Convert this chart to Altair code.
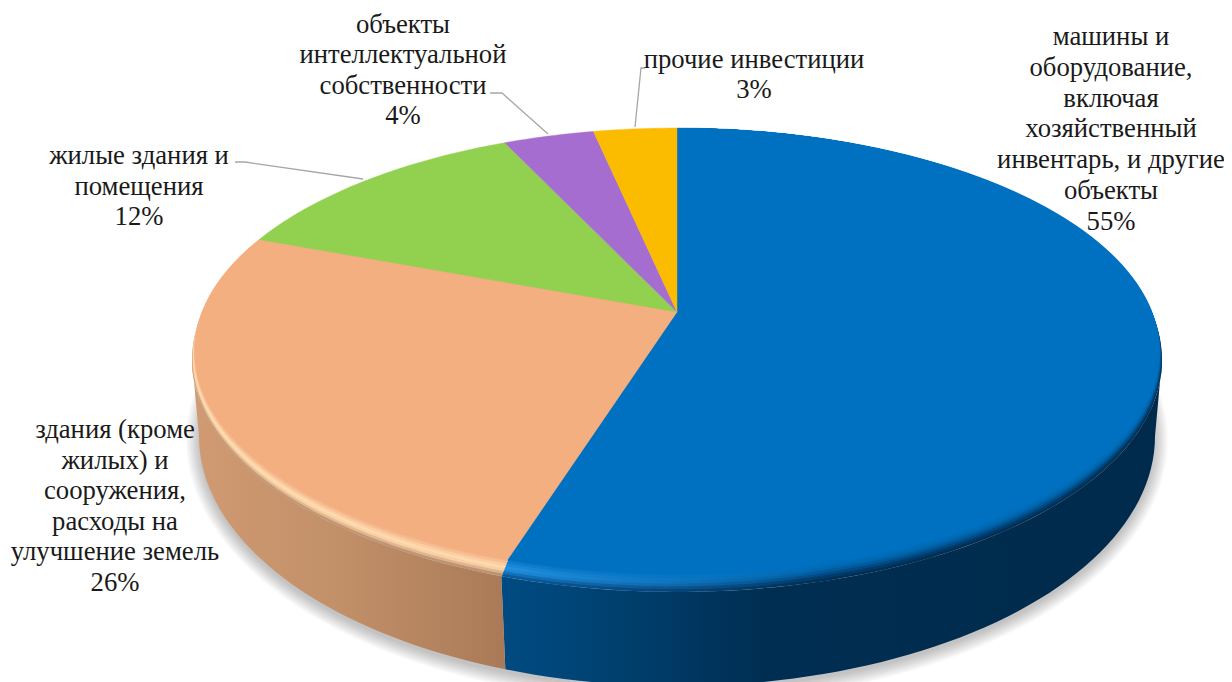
import math
import altair as alt

# ---- chart values
categories = ["машины и оборудование, включая хозяйственный инвентарь, и другие объекты",
              "здания (кроме жилых) и сооружения, расходы на улучшение земель",
              "жилые здания и помещения",
              "объекты интеллектуальной собственности",
              "прочие инвестиции"]
shares = [54.8, 26.0, 12.3, 3.6, 3.3]
face_colors = ["#0070C0", "#F3AF80", "#92D050", "#A56DD0", "#FBBC00"]

label_lines = [
    ["машины и", "оборудование,", "включая", "хозяйственный", "инвентарь, и другие", "объекты", "55%"],
    ["здания (кроме", "жилых) и", "сооружения,", "расходы на", "улучшение земель", "26%"],
    ["жилые здания и", "помещения", "12%"],
    ["объекты", "интеллектуальной", "собственности", "4%"],
    ["прочие инвестиции", "3%"],
]

# ---- layout of the perspective disc (reference pixels)
CX, CY = 677, 312
LOW = dict(cy=436, rx=478, ry=250)
OUTER = dict(k=0.207, b=222.0, a=474.5)
FLAT = dict(k=0.174, b=216.0, a=475.0)
label_anchor = [(1111, 37.3, 30.7), (115, 430, 30.6), (139, 156, 30.5), (403, 25, 30.4), (754, 60, 30.0)]
leaders = [[(235, 162), (245, 162), (363, 179)],
           [(490, 93), (502, 93), (548, 134)],
           [(645, 68), (641, 68), (635, 127)]]


def rim(deg, s):
    k = FLAT["k"] + (OUTER["k"] - FLAT["k"]) * s
    b = FLAT["b"] + (OUTER["b"] - FLAT["b"]) * s
    a = FLAT["a"] + (OUTER["a"] - FLAT["a"]) * s
    u, v = math.sin(math.radians(deg)), -math.cos(math.radians(deg))
    d = 1 - k * v
    return [CX + a * u / d, CY + b * v / d]


def low(t):
    return [CX + LOW["rx"] * math.cos(math.radians(t)), LOW["cy"] + LOW["ry"] * math.sin(math.radians(t))]


def frange(a, b, n):
    return [a + (b - a) * i / n for i in range(n + 1)]


def poly(points):
    pts = [list(p) for p in points]
    return {"type": "Feature", "properties": {},
            "geometry": {"type": "Polygon", "coordinates": [pts + [pts[0]]]}}


def wedge(a0, a1, s):
    n = max(2, int(abs(a1 - a0)))
    return poly([[CX, CY]] + [rim(a, s) for a in frange(a0, a1, n)])


PROJ = dict(type="identity", scale=1, translate=[-8, -8])


def shape(features, **mark):
    return (alt.Chart(alt.Data(values=features))
            .mark_geoshape(**mark)
            .project(**PROJ))


def grad(stops):
    return alt.LinearGradient(gradient="linear", x1=0, x2=1, y1=0, y2=0,
                              stops=[alt.GradientStop(offset=o, color=c) for o, c in stops])


edges = [0.0]
for v in shares:
    edges.append(edges[-1] + v * 3.6)
th_b = edges[1]
th_r = math.degrees(math.acos(-OUTER["k"]))
th_l = 360 - th_r
t_b = math.degrees(math.acos((rim(th_b, 1)[0] + 4 - CX) / LOW["rx"]))

layers = []

# soft shadow under the side wall
for i in range(9):
    g = 1.6 * i
    pts = [[CX + (LOW["rx"] + g) * math.cos(math.radians(t)),
            LOW["cy"] + 4 + (LOW["ry"] + g) * math.sin(math.radians(t))] for t in frange(-10, 190, 120)]
    layers.append(shape([poly(pts)], fill="#000000", fillOpacity=0.028, stroke=None))

# side walls
blue_side = [rim(a, 1) for a in frange(th_r, th_b, 60)] + [low(t) for t in frange(t_b, 0, 60)]
orange_side = [rim(a, 1) for a in frange(th_b, th_l, 40)] + [low(t) for t in frange(180, t_b, 40)]
layers.append(shape([poly(blue_side)],
                    fill=grad([(0, "#004B82"), (0.12, "#004476"), (0.4, "#002E52"), (1, "#002A4B")])))
layers.append(shape([poly(orange_side)],
                    fill=grad([(0, "#D19A72"), (0.5, "#C08F68"), (1, "#AA7A58")])))

# bevel rings between side and flat face
rings = [
    (1.00, "#0A5C9E", "#002F55", "#C79A76", "#B88E6C"),
    (0.85, "#1273BE", "#003A68", "#E5BC94", "#DAB08A"),
    (0.70, "#1E8AD8", "#004A85", "#FAD5AA", "#F5CCA0"),
    (0.55, "#2090E0", "#005A9C", "#FFDCB0", "#FFD8AC"),
    (0.40, "#1A88D8", "#0066AE", "#FBCDA2", "#FBCDA0"),
    (0.25, "#0F7ECE", "#006CB8", "#F7BE92", "#F7BE92"),
    (0.10, "#0676C6", "#006FBE", "#F4B387", "#F4B387"),
]
for s, bl, br, ol, or_ in rings:
    layers.append(shape([wedge(edges[0], edges[1], s)], fill=grad([(0, bl), (0.5, br), (1, br)])))
    layers.append(shape([wedge(edges[1], edges[2], s)], fill=grad([(0, ol), (1, or_)])))

# flat face of every slice
for i, c in enumerate(face_colors):
    layers.append(shape([wedge(edges[i], edges[i + 1], 0)], fill=c, stroke=c, strokeWidth=0.4))

# leader lines
line_feats = [{"type": "Feature", "properties": {},
               "geometry": {"type": "LineString", "coordinates": [list(p) for p in l]}} for l in leaders]
layers.append(shape(line_feats, filled=False, fill=None, stroke="#A6A6A6", strokeWidth=1.3))

# labels
rows = []
for lines, (x, y0, dy) in zip(label_lines, label_anchor):
    for j, t in enumerate(lines):
        rows.append({"x": x, "y": y0 + j * dy, "t": t})
text = (alt.Chart(alt.Data(values=rows))
        .mark_text(font="Liberation Serif", fontSize=26.7, color="#1A1A1A", align="center", baseline="middle")
        .encode(longitude="x:Q", latitude="y:Q", text="t:N")
        .project(**PROJ))
layers.append(text)

chart = (alt.layer(*layers)
         .properties(width=1216, height=674, padding=0, autosize=alt.AutoSizeParams(type="none"))
         .configure_view(stroke=None))
chart.save("out.html", embed_options={"renderer": "svg", "actions": False})
